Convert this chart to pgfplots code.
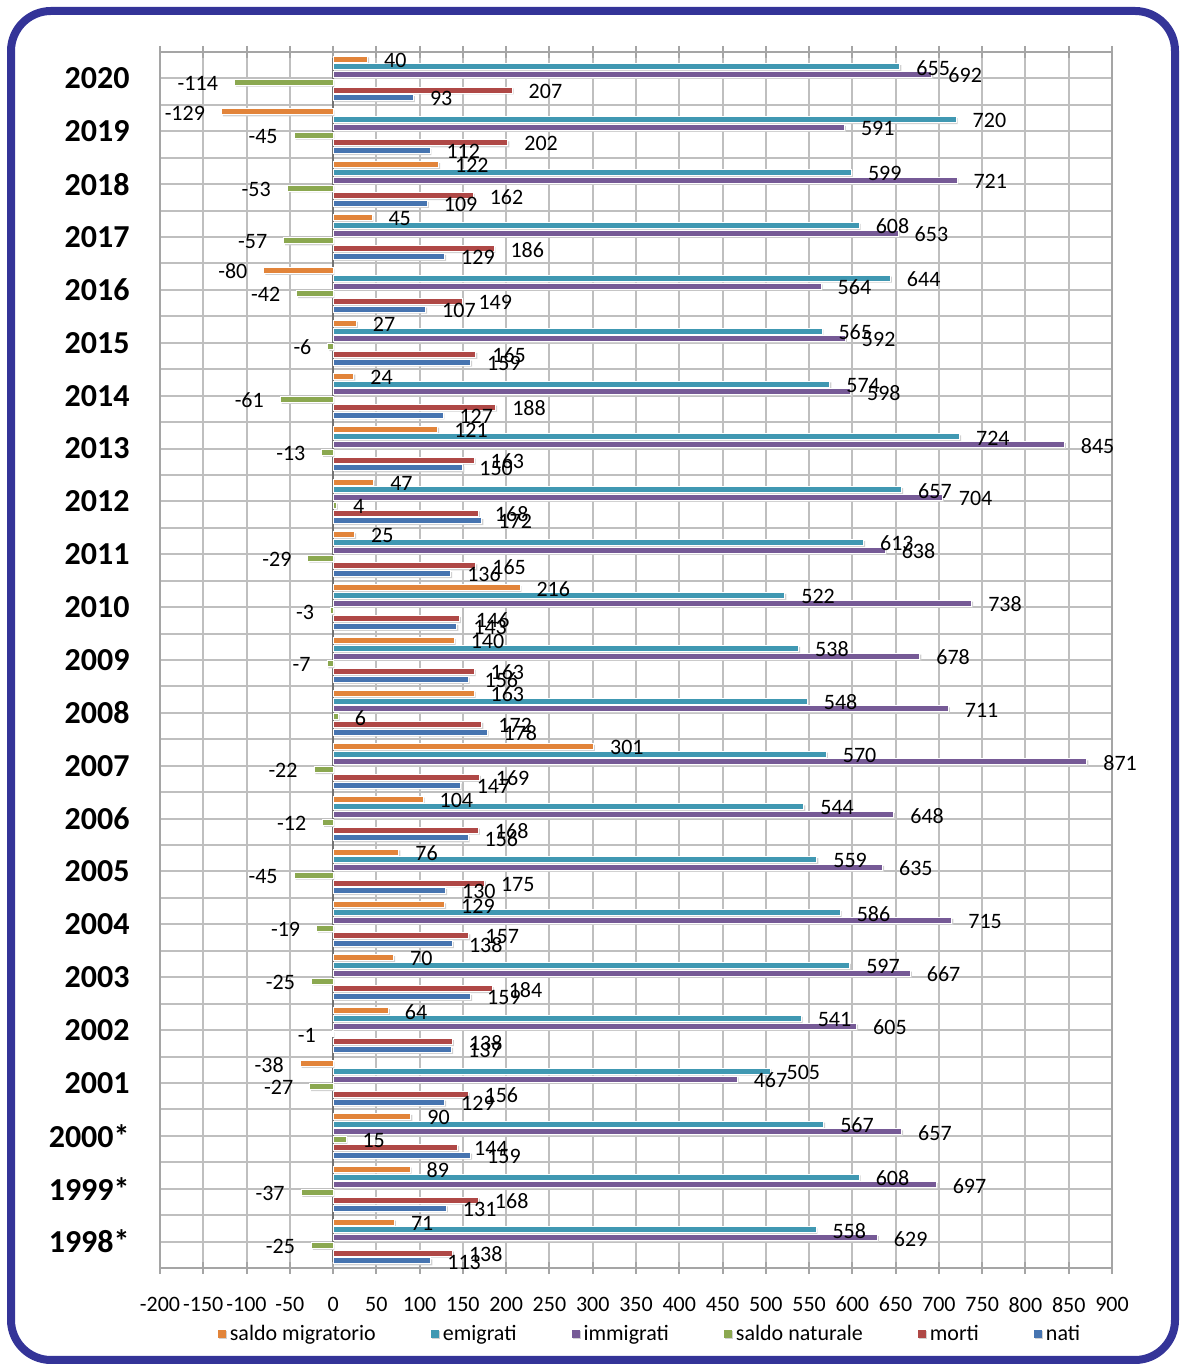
\documentclass[border=0pt]{standalone}
\usepackage{pgfplots}
\pgfplotsset{compat=1.18}
\usepackage{pgfplotstable}
\usepackage{fontspec}
\setmainfont{Carlito}
\definecolor{cMig}{RGB}{226,132,58}
\definecolor{cEmi}{RGB}{64,152,178}
\definecolor{cImm}{RGB}{118,90,150}
\definecolor{cNat}{RGB}{139,168,80}
\definecolor{cMor}{RGB}{175,72,70}
\definecolor{cNati}{RGB}{70,116,176}
\definecolor{frame}{RGB}{52,52,152}
\definecolor{grid}{RGB}{165,165,165}
\pgfplotstableread{
y mig emi imm nat morti nati
0 71 558 629 -25 138 113
1 89 608 697 -37 168 131
2 90 567 657 15 144 159
3 -38 505 467 -27 156 129
4 64 541 605 -1 138 137
5 70 597 667 -25 184 159
6 129 586 715 -19 157 138
7 76 559 635 -45 175 130
8 104 544 648 -12 168 156
9 301 570 871 -22 169 147
10 163 548 711 6 172 178
11 140 538 678 -7 163 156
12 216 522 738 -3 146 143
13 25 613 638 -29 165 136
14 47 657 704 4 168 172
15 121 724 845 -13 163 150
16 24 574 598 -61 188 127
17 27 565 592 -6 165 159
18 -80 644 564 -42 149 107
19 45 608 653 -57 186 129
20 122 599 721 -53 162 109
21 -129 720 591 -45 202 112
22 40 655 692 -114 207 93
}\data
\begin{document}
\begin{tikzpicture}
\useasboundingbox (0,0) rectangle (590pt,682.5pt);
\draw[line width=4pt, color=frame, rounded corners=20pt] (5.5pt,2.5pt) rectangle (587.5pt,677pt);
\begin{axis}[
  at={(80pt,48.5pt)}, anchor=south west,
  scale only axis, width=476pt, height=608pt,
  xbar, bar width=3pt,
  xmin=-200, xmax=900, ymin=-0.5, ymax=22.5,
  xtick={-200,-150,...,900},
  ytick={0,...,22},
  yticklabels={1998*,1999*,2000*,2001,2002,2003,2004,2005,2006,2007,2008,2009,2010,2011,2012,2013,2014,2015,2016,2017,2018,2019,2020},
  minor ytick={-0.5,0.5,...,22.5},
  xmajorgrids, ymajorgrids, yminorgrids,
  major grid style={grid, line width=1pt},
  minor grid style={grid, line width=1pt},
  axis line style={grid, line width=1pt},
  tick align=center, major tick length=6pt, minor tick length=0pt,
  xtick style={grid, line width=1pt},
  ytick style={draw=none},
  extra x ticks={0}, extra x tick labels={},
  extra x tick style={grid style={black!55, line width=1.2pt}},
  /pgf/number format/assume math mode=true,
  xticklabel style={font=\fontsize{11}{13}\selectfont, yshift=-8pt},
  yticklabel style={font=\bfseries\fontsize{16}{19}\selectfont, anchor=east, inner sep=0pt, xshift=-12pt},
  nodes near coords,
  nodes near coords align={horizontal},
  every node near coord/.append style={font=\fontsize{11}{13}\selectfont, text=black, inner xsep=8pt, inner ysep=0pt, yshift=-0.5pt},
  legend columns=6,
  legend style={at={(0.5,0)}, anchor=center, yshift=-33pt, xshift=7.5pt, draw=none, fill=none,
    font=\fontsize{11}{13}\selectfont,
    nodes={inner xsep=2pt},
    /tikz/every even column/.append style={column sep=25.5pt}},
  legend image code/.code={\fill[#1,draw=none] (0pt,-2pt) rectangle (4pt,2pt);},
  every axis plot/.append style={draw=white, line width=0.5pt,
    preaction={fill=black!18, draw=none, transform canvas={xshift=0.7pt, yshift=-0.7pt}}},
]
\addplot[fill=cMig, bar shift=9.6875pt] table[x=mig,y=y]{\data};
\addlegendentry{saldo migratorio}
\addplot[fill=cEmi, bar shift=5.8125pt] table[x=emi,y=y]{\data};
\addlegendentry{emigrati}
\addplot[fill=cImm, bar shift=1.9375pt] table[x=imm,y=y]{\data};
\addlegendentry{immigrati}
\addplot[fill=cNat, bar shift=-1.9375pt] table[x=nat,y=y]{\data};
\addlegendentry{saldo naturale}
\addplot[fill=cMor, bar shift=-5.8125pt] table[x=morti,y=y]{\data};
\addlegendentry{morti}
\addplot[fill=cNati, bar shift=-9.6875pt] table[x=nati,y=y]{\data};
\addlegendentry{nati}
\end{axis}
\end{tikzpicture}
\end{document}
